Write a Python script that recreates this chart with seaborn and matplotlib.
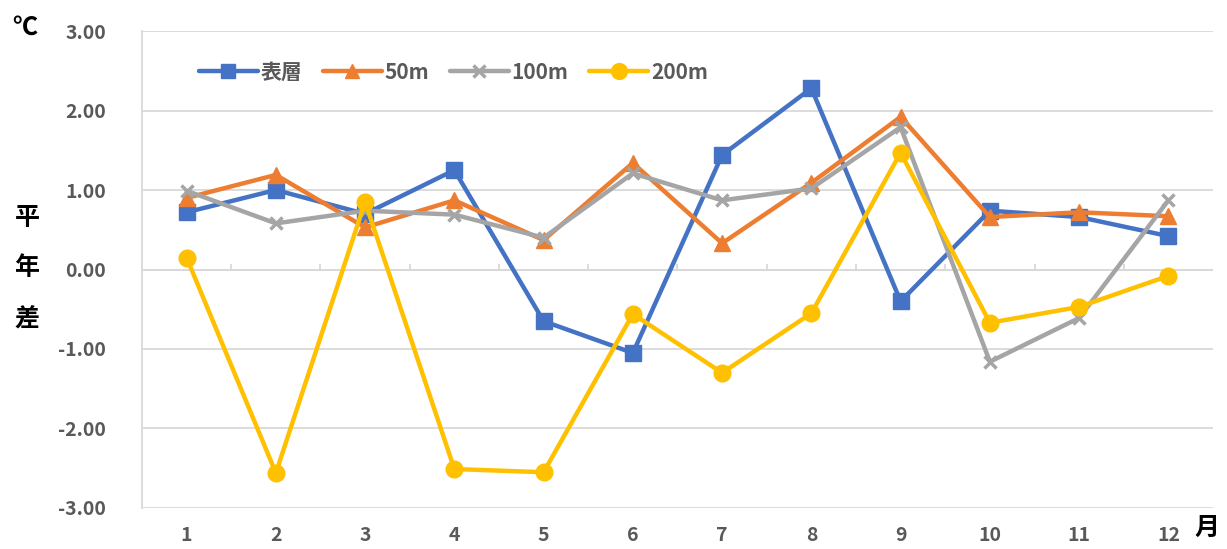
import pandas as pd
import matplotlib.pyplot as plt
import seaborn as sns

# 月
meses = list(range(1, 13))

# 平年差 (℃)
hyoso = [0.72, 1.00, 0.70, 1.25, -0.65, -1.05, 1.44, 2.28, -0.40, 0.74, 0.66, 0.42]
m50 = [0.90, 1.19, 0.53, 0.87, 0.37, 1.34, 0.33, 1.09, 1.92, 0.66, 0.72, 0.67]
m100 = [0.99, 0.58, 0.74, 0.69, 0.40, 1.21, 0.87, 1.02, 1.79, -1.16, -0.61, 0.87]
m200 = [0.15, -2.56, 0.85, -2.51, -2.55, -0.56, -1.30, -0.55, 1.47, -0.67, -0.47, -0.08]

series = {'表層': hyoso, '50m': m50, '100m': m100, '200m': m200}
cores = {'表層': '#4472C4', '50m': '#ED7D31', '100m': '#A5A5A5', '200m': '#FFC000'}
marcadores = {'表層': ('s', 11), '50m': ('^', 11), '100m': ('x', 9), '200m': ('o', 12)}

df = pd.concat(
    [pd.DataFrame({'月': meses, '値': v, '層': k}) for k, v in series.items()],
    ignore_index=True)

sns.set_theme(style="white")
plt.rcParams['font.family'] = ['Noto Sans CJK JP', 'DejaVu Sans']

fig = plt.figure(figsize=(12.27, 5.49), dpi=100)
ax = fig.add_axes([0.1157, 0.0747, 0.8729, 0.8688])

for nome in series:
    m, ms = marcadores[nome]
    sns.lineplot(data=df[df['層'] == nome], x='月', y='値', ax=ax,
                 color=cores[nome], linewidth=3.2, marker=m, markersize=ms,
                 markeredgecolor=cores[nome], markeredgewidth=2.5 if m == 'x' else 1,
                 label=nome, zorder=3)

ax.set_xlim(0.5, 12.5)
ax.set_ylim(-3, 3)
ax.set_yticks([-3, -2, -1, 0, 1, 2, 3])
ax.set_yticklabels([f'{v:.2f}' for v in [-3, -2, -1, 0, 1, 2, 3]])
ax.set_xticks(meses)
ax.set_xlabel('')
ax.set_ylabel('')
ax.grid(True, axis='y', color='#D9D9D9', linewidth=1.3)
ax.set_axisbelow(True)

for s in ['top', 'right', 'bottom']:
    ax.spines[s].set_visible(False)
ax.spines['left'].set_color('#D9D9D9')
ax.spines['left'].set_linewidth(1.3)

# eixo em y=0 com marcas entre os meses
ax.axhline(0, color='#D9D9D9', linewidth=1.3, zorder=1)
ax.vlines([x + 0.5 for x in meses[:-1]], 0, 0.07, color='#D9D9D9', linewidth=1.3, zorder=1)

ax.tick_params(axis='x', length=0, pad=13, labelsize=14, labelcolor='#595959')
ax.tick_params(axis='y', length=0, pad=26, labelsize=14, labelcolor='#595959')
for t in ax.get_xticklabels() + ax.get_yticklabels():
    t.set_fontweight('bold')

leg = ax.legend(loc='upper left', bbox_to_anchor=(0.036, 0.975), ncol=4, frameon=False,
                fontsize=15, handlelength=2.8, columnspacing=1.0, handletextpad=0.15,
                labelcolor='#595959', markerscale=0.95)
for t in leg.get_texts():
    t.set_fontweight('bold')

fig.text(25 / 1227, 1 - 28 / 549, '℃', fontsize=18, fontweight='bold', ha='center',
         va='center', color='black')
for i, c in enumerate('平年差'):
    fig.text(27 / 1227, 1 - (218 + 50 * i) / 549, c, fontsize=18, fontweight='bold',
             ha='center', va='center', color='black')
fig.text(1207 / 1227, 1 - 528 / 549, '月', fontsize=18, fontweight='bold', ha='center',
         va='center', color='black')

plt.savefig('out.png', dpi=100)
